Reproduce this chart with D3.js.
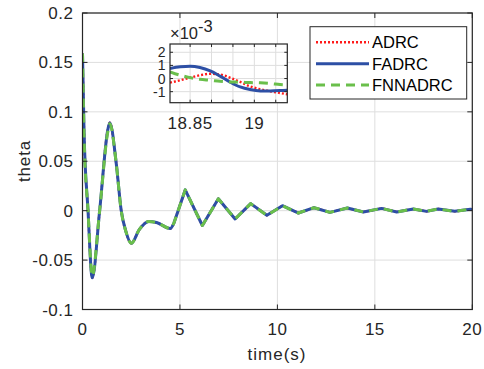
<!DOCTYPE html>
<html>
<head>
<meta charset="utf-8">
<script src="https://cdn.jsdelivr.net/npm/d3@7"></script>
<style>
  html, body { margin: 0; padding: 0; background: #fff; }
  svg { display: block; font-family: 'Liberation Sans', Arial, sans-serif; }
</style>
</head>
<body>
<div id="chart"></div>
<script>
// main response, time in seconds
const timeMain = [0, 0.04, 0.08, 0.28, 0.5, 0.87, 1.3, 1.4, 1.73, 1.98, 2.24, 2.5, 2.92, 3.4, 3.8, 4.5, 4.7,
  5.27, 6.15, 6.97, 7.83, 8.63, 9.46, 10.26, 11.08, 11.88, 12.7, 13.59, 14.41, 15.35, 16.12, 16.97, 17.65, 18.25, 19.1, 19.9, 20];
const adrcMain = [0.159, 0.12, 0.08, 0.001, -0.068, -0.002, 0.082, 0.089, 0.048, 0.001, -0.022, -0.033, -0.019, -0.011, -0.012, -0.018, -0.012,
  0.021, -0.015, 0.012, -0.0084, 0.0071, -0.0047, 0.005, -0.0024, 0.003, -0.0017, 0.0027, -0.0013, 0.0023, -0.0013, 0.0017, -0.0007, 0.0017, -0.0007, 0.0015, 0.0012];
const fadrcMain = [0.159, 0.12, 0.08, 0.001, -0.068, -0.002, 0.082, 0.089, 0.048, 0.001, -0.022, -0.033, -0.019, -0.011, -0.012, -0.018, -0.012,
  0.021, -0.015, 0.012, -0.0084, 0.0071, -0.0047, 0.005, -0.0024, 0.003, -0.0017, 0.0027, -0.0013, 0.0023, -0.0013, 0.0017, -0.0007, 0.0017, -0.0007, 0.0015, 0.0012];
const fnnadrcMain = [0.159, 0.115, 0.075, 0.001, -0.066, -0.002, 0.08, 0.088, 0.048, 0.001, -0.022, -0.033, -0.019, -0.011, -0.012, -0.018, -0.012,
  0.021, -0.015, 0.012, -0.0084, 0.0071, -0.0047, 0.005, -0.0024, 0.003, -0.0017, 0.0027, -0.0013, 0.0023, -0.0013, 0.0017, -0.0007, 0.0017, -0.0007, 0.0015, 0.0012];

// zoomed window, values in units of 1e-3
const timeZoom = [18.803, 18.827, 18.85, 18.873, 18.897, 18.92, 18.943, 18.967, 18.99, 19.014, 19.037, 19.06, 19.077];
const adrcZoom = [-0.31, -0.13, 0.07, 0.25, 0.36, 0.31, 0.07, -0.26, -0.59, -0.82, -0.97, -1.1, -1.2];
const fadrcZoom = [0.76, 0.89, 0.94, 0.84, 0.58, 0.18, -0.26, -0.64, -0.84, -0.94, -0.94, -0.92, -0.89];
const fnnadrcZoom = [0.51, 0.25, 0.07, -0.06, -0.13, -0.21, -0.26, -0.28, -0.31, -0.33, -0.38, -0.46, -0.5];

const seriesNames = ['ADRC', 'FADRC', 'FNNADRC'];
const xTicks = [0, 5, 10, 15, 20];
const yTicks = [-0.1, -0.05, 0, 0.05, 0.1, 0.15, 0.2];
const zoomXTicks = [18.85, 18.9, 18.95, 19, 19.05];
const zoomXLabels = [18.85, 19];
const zoomYTicks = [-1, 0, 1, 2];

const width = 484, height = 369;
const axisColor = '#262626';
const gridColor = '#dedede';
const smoothUntil = 16; // index in timeMain where the smooth part ends (t = 4.7)
const styles = [
  { color: '#ff1a1a', width: 2.4, dash: '2,2' },
  { color: '#2d4fa5', width: 3, dash: null },
  { color: '#6abf4b', width: 3, dash: '9,6' },
];

const svg = d3.select('#chart').append('svg')
  .attr('width', width).attr('height', height);
const defs = svg.append('defs');

// white background + grid lines
const drawFrame = (g, x, y, xt, yt) => {
  const [x0, x1] = x.range(), [y0, y1] = y.range();
  g.append('rect').attr('x', x0).attr('y', y1).attr('width', x1 - x0).attr('height', y0 - y1)
    .attr('fill', '#fff');
  g.selectAll('.gx').data(xt).enter().append('line')
    .attr('x1', d => x(d)).attr('x2', d => x(d)).attr('y1', y0).attr('y2', y1)
    .attr('stroke', gridColor).attr('stroke-width', 1);
  g.selectAll('.gy').data(yt).enter().append('line')
    .attr('y1', d => y(d)).attr('y2', d => y(d)).attr('x1', x0).attr('x2', x1)
    .attr('stroke', gridColor).attr('stroke-width', 1);
};

// box outline with inward ticks on all sides
const drawBox = (g, x, y, xt, yt, tick) => {
  const [x0, x1] = x.range(), [y0, y1] = y.range();
  xt.forEach(d => {
    g.append('line').attr('x1', x(d)).attr('x2', x(d)).attr('y1', y0).attr('y2', y0 - tick).attr('stroke', axisColor);
    g.append('line').attr('x1', x(d)).attr('x2', x(d)).attr('y1', y1).attr('y2', y1 + tick).attr('stroke', axisColor);
  });
  yt.forEach(d => {
    g.append('line').attr('y1', y(d)).attr('y2', y(d)).attr('x1', x0).attr('x2', x0 + tick).attr('stroke', axisColor);
    g.append('line').attr('y1', y(d)).attr('y2', y(d)).attr('x1', x1).attr('x2', x1 - tick).attr('stroke', axisColor);
  });
  g.append('rect').attr('x', x0).attr('y', y1).attr('width', x1 - x0).attr('height', y0 - y1)
    .attr('fill', 'none').attr('stroke', axisColor).attr('stroke-width', 1.2);
};

const addClip = (id, x, y) => {
  const [x0, x1] = x.range(), [y0, y1] = y.range();
  defs.append('clipPath').attr('id', id).append('rect')
    .attr('x', x0).attr('y', y1).attr('width', x1 - x0).attr('height', y0 - y1);
};

// smooth start, straight segments afterwards (sampled look of the tail)
const pathFor = (x, y, times, vals, split) => {
  const pts = vals.map((v, i) => [x(times[i]), y(v)]);
  if (split == null) return d3.line().curve(d3.curveMonotoneX)(pts);
  const head = d3.line().curve(d3.curveMonotoneX)(pts.slice(0, split + 1));
  const tail = d3.line()(pts.slice(split)).replace(/^M/, 'L');
  return head + tail;
};

const drawLines = (g, x, y, times, seriesList, clipId, split) => {
  seriesList.forEach((vals, i) => {
    g.append('path')
      .attr('d', pathFor(x, y, times, vals, split))
      .attr('fill', 'none')
      .attr('stroke', styles[i].color)
      .attr('stroke-width', styles[i].width)
      .attr('stroke-dasharray', styles[i].dash)
      .attr('stroke-linejoin', 'round')
      .attr('clip-path', `url(#${clipId})`);
  });
};

// ---- main axes
const x = d3.scaleLinear().domain([0, 20]).range([82.5, 472.3]);
const y = d3.scaleLinear().domain([-0.1, 0.2]).range([309.5, 13]);
const main = svg.append('g');
addClip('clip-main', x, y);

drawFrame(main, x, y, xTicks, yTicks);
drawLines(main, x, y, timeMain, [adrcMain, fadrcMain, fnnadrcMain], 'clip-main', smoothUntil);
drawBox(main, x, y, xTicks, yTicks, 5);

main.selectAll('.xl').data(xTicks).enter().append('text')
  .attr('x', d => x(d)).attr('y', 335).attr('text-anchor', 'middle')
  .attr('font-size', 17).attr('letter-spacing', 0.5).attr('fill', axisColor).text(d => d);
main.selectAll('.yl').data(yTicks).enter().append('text')
  .attr('x', 73.5).attr('y', d => y(d) + 6).attr('text-anchor', 'end')
  .attr('font-size', 17).attr('letter-spacing', 0.5).attr('fill', axisColor).text(d => d);

main.append('text').attr('x', 277).attr('y', 360).attr('text-anchor', 'middle')
  .attr('font-size', 17).attr('letter-spacing', 1).attr('fill', axisColor).text('time(s)');
main.append('text').attr('transform', 'translate(29.5,161) rotate(-90)').attr('text-anchor', 'middle')
  .attr('font-size', 17).attr('letter-spacing', 0.8).attr('fill', axisColor).text('theta');

// ---- legend
const legend = svg.append('g');
legend.append('rect').attr('x', 310).attr('y', 26.7).attr('width', 156.7).attr('height', 72.3)
  .attr('fill', '#fff').attr('stroke', axisColor).attr('stroke-width', 1);
seriesNames.forEach((name, i) => {
  const ly = 42.3 + i * 21.4;
  legend.append('line').attr('x1', 316).attr('x2', 369).attr('y1', ly).attr('y2', ly)
    .attr('stroke', styles[i].color).attr('stroke-width', styles[i].width)
    .attr('stroke-dasharray', styles[i].dash);
  legend.append('text').attr('x', 372).attr('y', ly + 6).attr('font-size', 16.5)
    .attr('fill', '#000').text(name);
});

// ---- inset
const xz = d3.scaleLinear().domain([18.803, 19.077]).range([170, 287.3]);
const yz = d3.scaleLinear().domain([-1.84, 2.63]).range([102.7, 44]);
const inset = svg.append('g');
addClip('clip-inset', xz, yz);

drawFrame(inset, xz, yz, zoomXTicks, zoomYTicks);
drawLines(inset, xz, yz, timeZoom, [adrcZoom, fadrcZoom, fnnadrcZoom], 'clip-inset');
drawBox(inset, xz, yz, zoomXTicks, zoomYTicks, 3);

inset.selectAll('.xl').data(zoomXLabels).enter().append('text')
  .attr('x', d => xz(d)).attr('y', 128.5).attr('text-anchor', 'middle')
  .attr('font-size', 17).attr('letter-spacing', 0.5).attr('fill', axisColor).text(d => d);
inset.selectAll('.yl').data(zoomYTicks).enter().append('text')
  .attr('x', 165.5).attr('y', d => yz(d) + 5).attr('text-anchor', 'end')
  .attr('font-size', 14).attr('fill', axisColor).text(d => d);

const expo = inset.append('text').attr('x', 170).attr('y', 38.5).attr('font-size', 16.5).attr('fill', axisColor);
expo.append('tspan').text('\u00d710');
expo.append('tspan').attr('dy', -7).text('-3');
</script>
</body>
</html>
